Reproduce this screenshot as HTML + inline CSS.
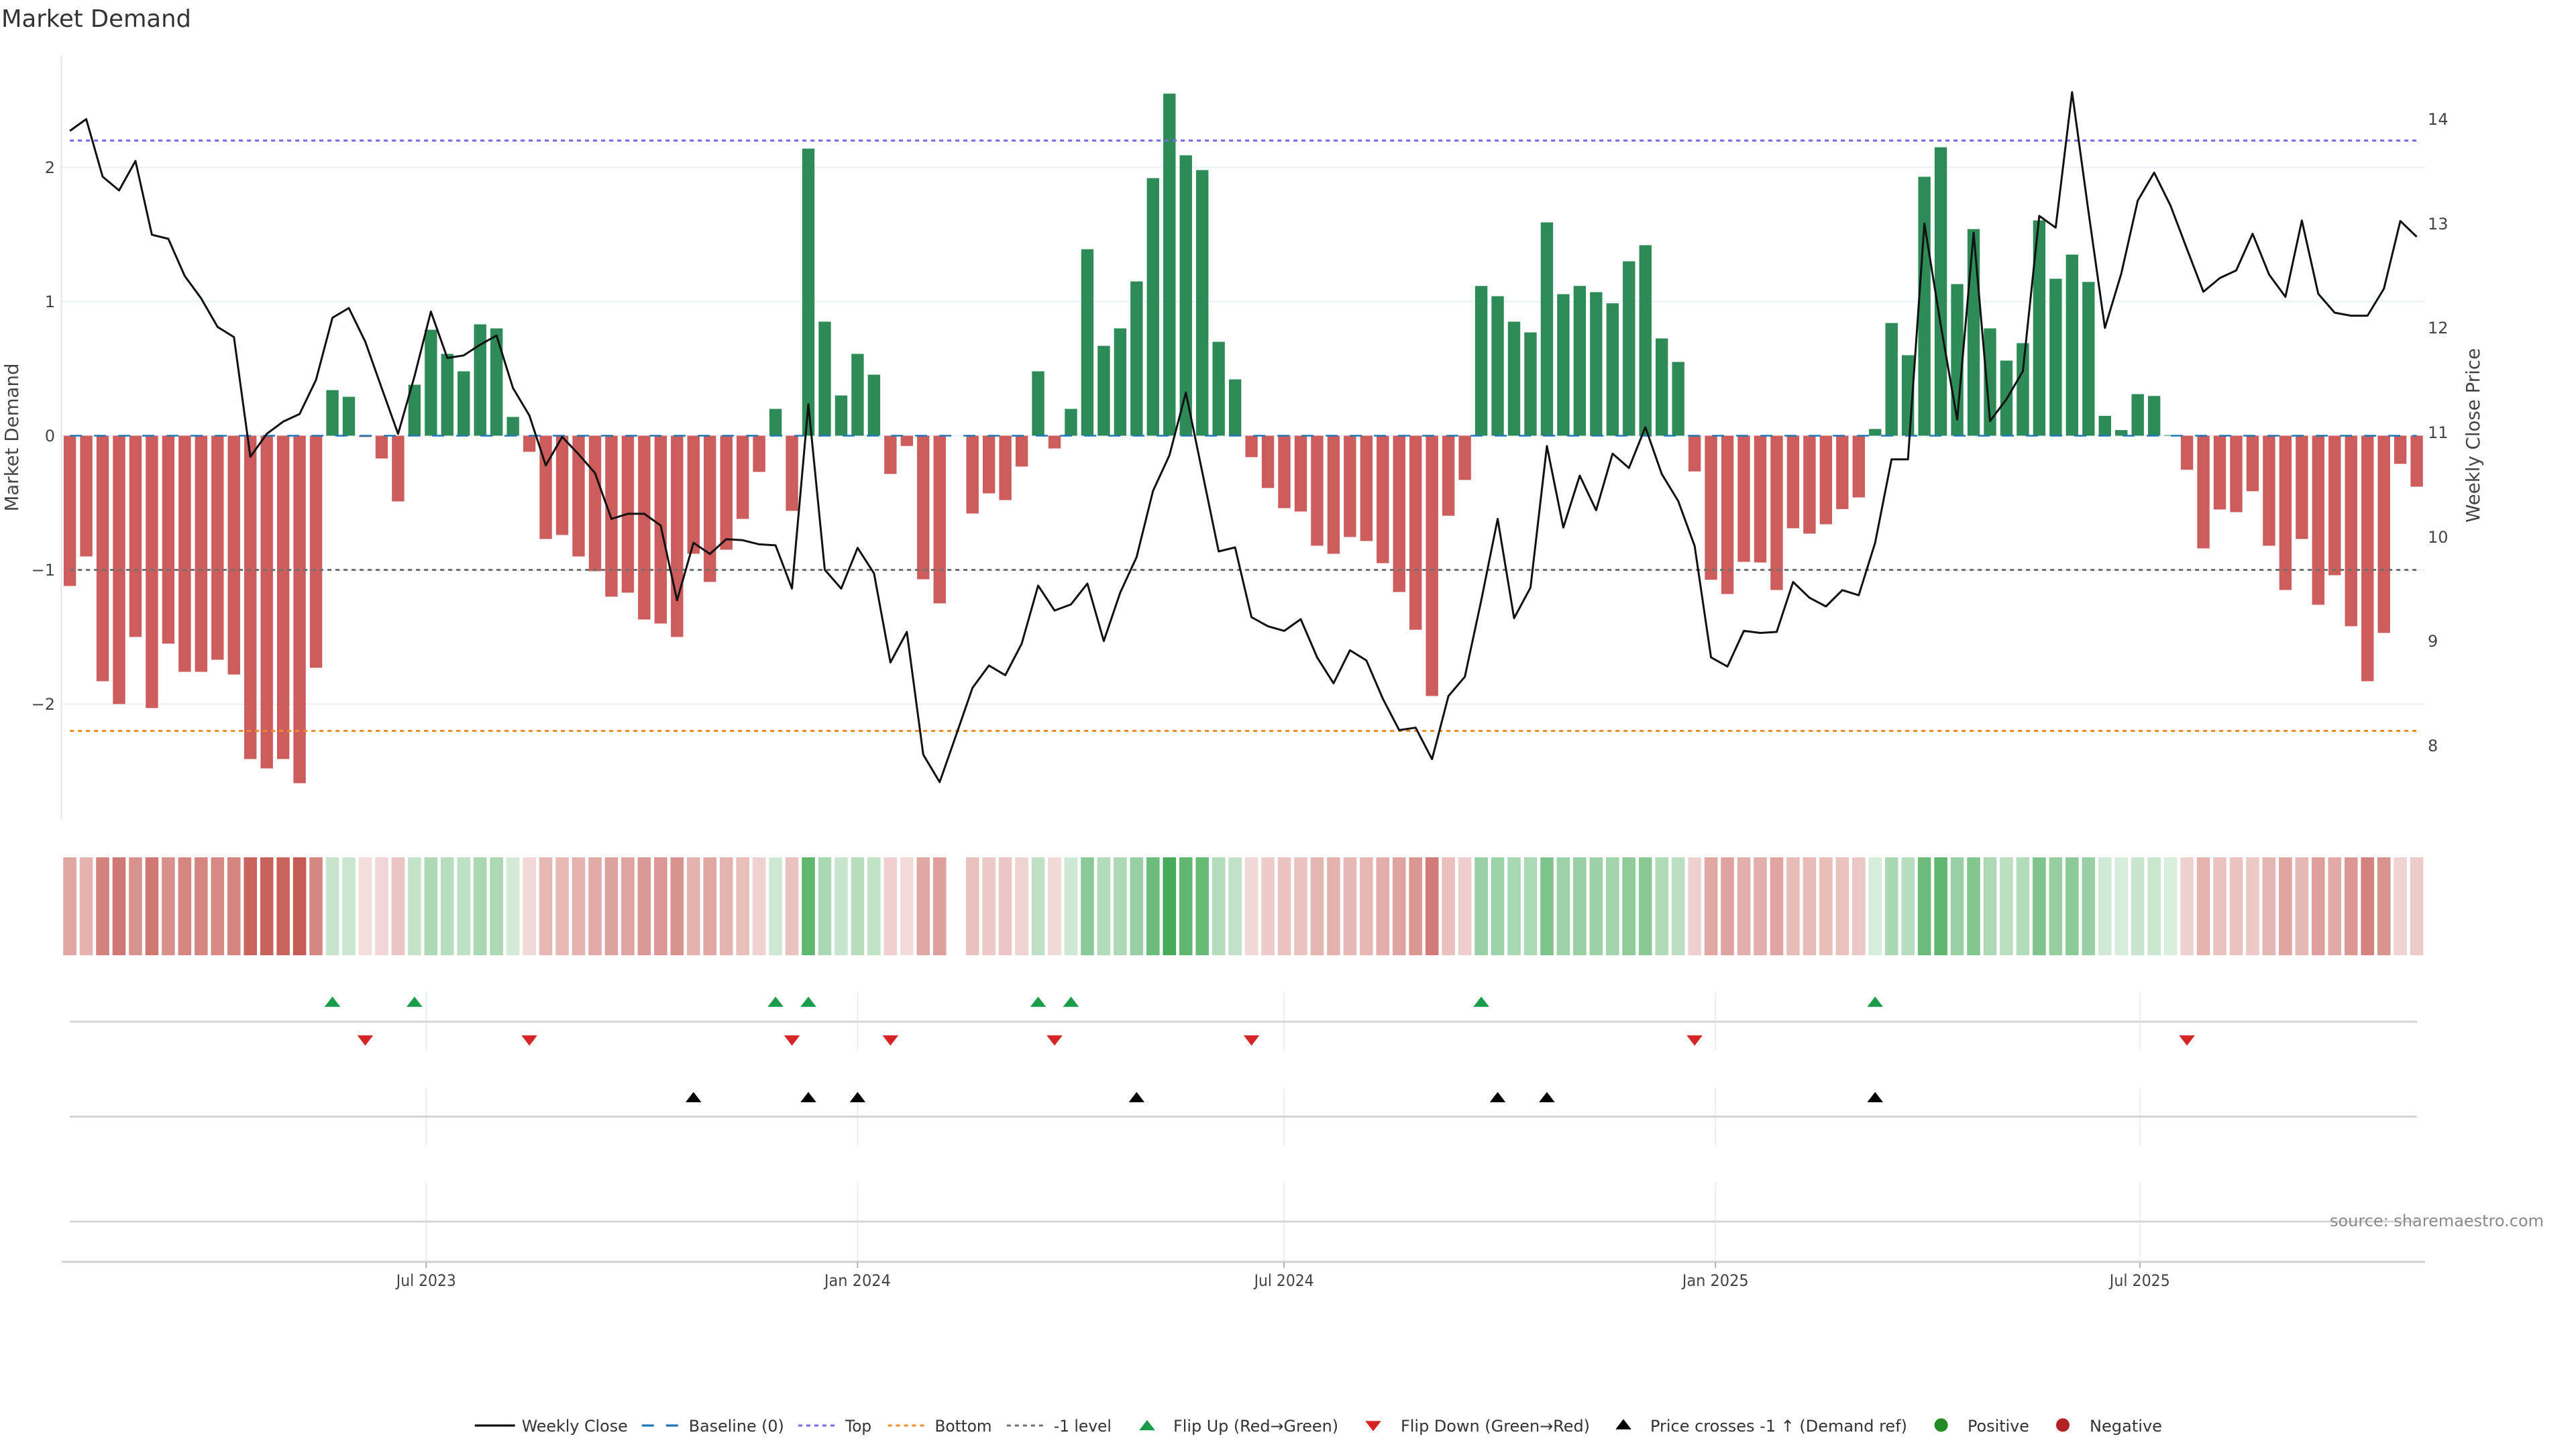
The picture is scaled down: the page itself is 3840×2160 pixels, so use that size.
<!DOCTYPE html>
<html>
<head>
<meta charset="utf-8">
<style>
html,body{margin:0;padding:0;background:#fff;}
svg{display:block;}
text{font-family:"DejaVu Sans","Liberation Sans",sans-serif;}
.sr{fill:#c65c55;}
.sg{fill:#45aa58;}
</style>
</head>
<body>
<svg width="3840" height="2160" viewBox="0 0 3840 2160" xmlns="http://www.w3.org/2000/svg">
<rect width="3840" height="2160" fill="#fff"/>
<defs>
<path id="tu" d="M-11.8,5.1H11.8L0,-10.2Z"/>
<path id="td" d="M-11.8,-5.1H11.8L0,10.2Z"/>
</defs>

<!-- Title -->
<text x="2" y="40" font-size="36" fill="#333" textLength="283" lengthAdjust="spacingAndGlyphs">Market Demand</text>

<!-- main plot gridlines -->
<g stroke="#ebf0f8" stroke-width="2">
<line x1="92" y1="249.5" x2="3615" y2="249.5"/>
<line x1="92" y1="449.5" x2="3615" y2="449.5"/>
<line x1="92" y1="649.5" x2="3615" y2="649.5"/>
<line x1="92" y1="849.5" x2="3615" y2="849.5"/>
<line x1="92" y1="1049.5" x2="3615" y2="1049.5"/>
</g>
<line x1="91.5" y1="83" x2="91.5" y2="1221" stroke="#e4e6ea" stroke-width="2"/>

<!-- bars -->
<g transform="translate(104.1 649.5) scale(24.465 -200)">
<path fill="#cd5c5c" d="M-.376 0h.752V-1.12h-.752z M.624 0h.752V-.9h-.752z M1.624 0h.752V-1.83h-.752z M2.624 0h.752V-2h-.752z M3.624 0h.752V-1.5h-.752z M4.624 0h.752V-2.03h-.752z M5.624 0h.752V-1.55h-.752z M6.624 0h.752V-1.76h-.752z M7.624 0h.752V-1.76h-.752z M8.624 0h.752V-1.67h-.752z M9.624 0h.752V-1.78h-.752z M10.624 0h.752V-2.41h-.752z M11.624 0h.752V-2.48h-.752z M12.624 0h.752V-2.41h-.752z M13.624 0h.752V-2.59h-.752z M14.624 0h.752V-1.73h-.752z M17.624 0h.752V-.01h-.752z M18.624 0h.752V-.17h-.752z M19.624 0h.752V-.49h-.752z M27.624 0h.752V-.12h-.752z M28.624 0h.752V-.77h-.752z M29.624 0h.752V-.74h-.752z M30.624 0h.752V-.9h-.752z M31.624 0h.752V-1.01h-.752z M32.624 0h.752V-1.2h-.752z M33.624 0h.752V-1.17h-.752z M34.624 0h.752V-1.37h-.752z M35.624 0h.752V-1.4h-.752z M36.624 0h.752V-1.5h-.752z M37.624 0h.752V-.88h-.752z M38.624 0h.752V-1.09h-.752z M39.624 0h.752V-.85h-.752z M40.624 0h.752V-.62h-.752z M41.624 0h.752V-.27h-.752z M43.624 0h.752V-.56h-.752z M49.624 0h.752V-.285h-.752z M50.624 0h.752V-.076h-.752z M51.624 0h.752V-1.07h-.752z M52.624 0h.752V-1.25h-.752z M54.624 0h.752V-.58h-.752z M55.624 0h.752V-.43h-.752z M56.624 0h.752V-.48h-.752z M57.624 0h.752V-.23h-.752z M59.624 0h.752V-.095h-.752z M71.624 0h.752V-.16h-.752z M72.624 0h.752V-.39h-.752z M73.624 0h.752V-.54h-.752z M74.624 0h.752V-.565h-.752z M75.624 0h.752V-.82h-.752z M76.624 0h.752V-.88h-.752z M77.624 0h.752V-.755h-.752z M78.624 0h.752V-.785h-.752z M79.624 0h.752V-.95h-.752z M80.624 0h.752V-1.165h-.752z M81.624 0h.752V-1.446h-.752z M82.624 0h.752V-1.94h-.752z M83.624 0h.752V-.596h-.752z M84.624 0h.752V-.33h-.752z M98.624 0h.752V-.266h-.752z M99.624 0h.752V-1.074h-.752z M100.624 0h.752V-1.18h-.752z M101.624 0h.752V-.94h-.752z M102.624 0h.752V-.945h-.752z M103.624 0h.752V-1.15h-.752z M104.624 0h.752V-.69h-.752z M105.624 0h.752V-.73h-.752z M106.624 0h.752V-.66h-.752z M107.624 0h.752V-.547h-.752z M108.624 0h.752V-.46h-.752z M128.624 0h.752V-.254h-.752z M129.624 0h.752V-.84h-.752z M130.624 0h.752V-.55h-.752z M131.624 0h.752V-.57h-.752z M132.624 0h.752V-.414h-.752z M133.624 0h.752V-.82h-.752z M134.624 0h.752V-1.15h-.752z M135.624 0h.752V-.77h-.752z M136.624 0h.752V-1.26h-.752z M137.624 0h.752V-1.04h-.752z M138.624 0h.752V-1.42h-.752z M139.624 0h.752V-1.83h-.752z M140.624 0h.752V-1.47h-.752z M141.624 0h.752V-.21h-.752z M142.624 0h.752V-.38h-.752z"/>
<path fill="#2e8b57" d="M15.624 0h.752V.34h-.752z M16.624 0h.752V.29h-.752z M20.624 0h.752V.38h-.752z M21.624 0h.752V.79h-.752z M22.624 0h.752V.61h-.752z M23.624 0h.752V.48h-.752z M24.624 0h.752V.83h-.752z M25.624 0h.752V.8h-.752z M26.624 0h.752V.14h-.752z M42.624 0h.752V.2h-.752z M44.624 0h.752V2.14h-.752z M45.624 0h.752V.85h-.752z M46.624 0h.752V.3h-.752z M47.624 0h.752V.61h-.752z M48.624 0h.752V.455h-.752z M58.624 0h.752V.48h-.752z M60.624 0h.752V.2h-.752z M61.624 0h.752V1.39h-.752z M62.624 0h.752V.67h-.752z M63.624 0h.752V.8h-.752z M64.624 0h.752V1.15h-.752z M65.624 0h.752V1.92h-.752z M66.624 0h.752V2.55h-.752z M67.624 0h.752V2.09h-.752z M68.624 0h.752V1.98h-.752z M69.624 0h.752V.7h-.752z M70.624 0h.752V.42h-.752z M85.624 0h.752V1.116h-.752z M86.624 0h.752V1.04h-.752z M87.624 0h.752V.85h-.752z M88.624 0h.752V.77h-.752z M89.624 0h.752V1.59h-.752z M90.624 0h.752V1.055h-.752z M91.624 0h.752V1.116h-.752z M92.624 0h.752V1.07h-.752z M93.624 0h.752V.987h-.752z M94.624 0h.752V1.3h-.752z M95.624 0h.752V1.42h-.752z M96.624 0h.752V.725h-.752z M97.624 0h.752V.55h-.752z M109.624 0h.752V.05h-.752z M110.624 0h.752V.84h-.752z M111.624 0h.752V.6h-.752z M112.624 0h.752V1.93h-.752z M113.624 0h.752V2.15h-.752z M114.624 0h.752V1.13h-.752z M115.624 0h.752V1.54h-.752z M116.624 0h.752V.8h-.752z M117.624 0h.752V.56h-.752z M118.624 0h.752V.69h-.752z M119.624 0h.752V1.605h-.752z M120.624 0h.752V1.17h-.752z M121.624 0h.752V1.35h-.752z M122.624 0h.752V1.146h-.752z M123.624 0h.752V.148h-.752z M124.624 0h.752V.042h-.752z M125.624 0h.752V.31h-.752z M126.624 0h.752V.296h-.752z M127.624 0h.752V.005h-.752z"/>
</g>

<!-- reference lines -->
<line x1="104.1" y1="649.5" x2="3602.6" y2="649.5" stroke="#1f77b4" stroke-width="2.5" stroke-dasharray="18,18"/>
<line x1="104.1" y1="209.5" x2="3602.6" y2="209.5" stroke="#7b68ee" stroke-width="3" stroke-dasharray="6,6"/>
<line x1="104.1" y1="1089.5" x2="3602.6" y2="1089.5" stroke="#f08a24" stroke-width="3" stroke-dasharray="6,6"/>
<line x1="104.1" y1="849.5" x2="3602.6" y2="849.5" stroke="#707070" stroke-width="3" stroke-dasharray="6,6"/>

<!-- price line -->
<g transform="translate(104.1 0) scale(24.465 1)">
<polyline fill="none" stroke="#111" stroke-width="3" stroke-linejoin="round" vector-effect="non-scaling-stroke" points="0,195.1 1,177.6 2,263.4 3,283.9 4,239.9 5,349.9 6,356 7,411.4 8,444.8 9,487.3 10,502.5 11,680.9 12,646.7 13,628.5 14,617.1 15,566.3 16,473.7 17,459.2 18,509.3 19,578.4 20,646.7 21,561 22,464.5 23,533.6 24,529.8 25,513.9 26,500.2 27,578.4 28,619.4 29,693.8 30,651.3 31,677.1 32,705.2 33,773.5 34,765.9 35,765.9 36,783.3 37,894.9 38,809.1 39,825.8 40,803.8 41,805.3 42,811.4 43,812.9 44,877.4 45,602.7 46,849.4 47,877.4 48,816.7 49,854.7 50,987.5 51,942 52,1124.9 53,1165.9 54,1096 55,1025.4 56,992.1 57,1006.5 58,959.4 59,872.9 60,910.1 61,901 62,869.9 63,955.6 64,883.5 65,830.4 66,731.7 67,678.6 68,585.2 69,703.6 70,822 71,816 72,920 73,933.6 74,940.4 75,923 76,979.9 77,1018.6 78,969.3 79,984.5 80,1041.4 81,1088.4 82,1084.7 83,1131.7 84,1037.6 85,1008.8 86,894.9 87,773.5 88,921.5 89,875.9 90,664.9 91,786.4 92,709 93,760.6 94,676.3 95,697.6 96,636.8 97,706.7 98,746.9 99,813.7 100,979.9 101,993.6 102,940.4 103,943.5 104,942 105,867.6 106,891.1 107,904 108,879.7 109,887.3 110,809.1 111,684.7 112,684.7 113,333.2 114,485 115,625.5 116,346.9 117,627.7 118,595.1 119,553.4 120,321.9 121,339.3 122,137.4 123,315.8 124,488.8 125,407.6 126,299.1 127,257.3 128,306.7 129,371.2 130,434.9 131,414.5 132,403.1 133,348.4 134,409.1 135,442.5 136,328.7 137,438 138,466.1 139,470.6 140,470.6 141,430.4 142,329.4 143,353"/>
</g>

<!-- left y ticks -->
<g font-size="24" fill="#444" text-anchor="end">
<text x="82" y="258">2</text>
<text x="82" y="458">1</text>
<text x="82" y="658">0</text>
<text x="82" y="858">−1</text>
<text x="82" y="1058">−2</text>
</g>
<!-- right y ticks -->
<g font-size="24" fill="#444">
<text x="3619" y="186">14</text>
<text x="3619" y="342">13</text>
<text x="3619" y="497">12</text>
<text x="3619" y="653">11</text>
<text x="3619" y="809">10</text>
<text x="3619" y="964">9</text>
<text x="3619" y="1120">8</text>
</g>
<text transform="translate(26.8 652) rotate(-90)" text-anchor="middle" font-size="28" fill="#444" textLength="221" lengthAdjust="spacingAndGlyphs">Market Demand</text>
<text transform="translate(3696 649) rotate(-90)" text-anchor="middle" font-size="28" fill="#444" textLength="260" lengthAdjust="spacingAndGlyphs">Weekly Close Price</text>

<!-- heat strip -->
<g transform="translate(104.1 1278) scale(24.465 1)">
<rect class="sr" x="-.4" width=".8" height="146" fill-opacity=".546"/>
<rect class="sr" x=".6" width=".8" height="146" fill-opacity=".478"/>
<rect class="sr" x="1.6" width=".8" height="146" fill-opacity=".765"/>
<rect class="sr" x="2.6" width=".8" height="146" fill-opacity=".818"/>
<rect class="sr" x="3.6" width=".8" height="146" fill-opacity=".663"/>
<rect class="sr" x="4.6" width=".8" height="146" fill-opacity=".827"/>
<rect class="sr" x="5.6" width=".8" height="146" fill-opacity=".679"/>
<rect class="sr" x="6.6" width=".8" height="146" fill-opacity=".744"/>
<rect class="sr" x="7.6" width=".8" height="146" fill-opacity=".744"/>
<rect class="sr" x="8.6" width=".8" height="146" fill-opacity=".716"/>
<rect class="sr" x="9.6" width=".8" height="146" fill-opacity=".75"/>
<rect class="sr" x="10.6" width=".8" height="146" fill-opacity=".944"/>
<rect class="sr" x="11.6" width=".8" height="146" fill-opacity=".966"/>
<rect class="sr" x="12.6" width=".8" height="146" fill-opacity=".944"/>
<rect class="sr" x="13.6" width=".8" height="146" fill-opacity="1"/>
<rect class="sr" x="14.6" width=".8" height="146" fill-opacity=".734"/>
<rect class="sg" x="15.6" width=".8" height="146" fill-opacity=".305"/>
<rect class="sg" x="16.6" width=".8" height="146" fill-opacity=".29"/>
<rect class="sr" x="17.6" width=".8" height="146" fill-opacity=".203"/>
<rect class="sr" x="18.6" width=".8" height="146" fill-opacity=".253"/>
<rect class="sr" x="19.6" width=".8" height="146" fill-opacity=".351"/>
<rect class="sg" x="20.6" width=".8" height="146" fill-opacity=".317"/>
<rect class="sg" x="21.6" width=".8" height="146" fill-opacity=".444"/>
<rect class="sg" x="22.6" width=".8" height="146" fill-opacity=".388"/>
<rect class="sg" x="23.6" width=".8" height="146" fill-opacity=".348"/>
<rect class="sg" x="24.6" width=".8" height="146" fill-opacity=".456"/>
<rect class="sg" x="25.6" width=".8" height="146" fill-opacity=".447"/>
<rect class="sg" x="26.6" width=".8" height="146" fill-opacity=".243"/>
<rect class="sr" x="27.6" width=".8" height="146" fill-opacity=".237"/>
<rect class="sr" x="28.6" width=".8" height="146" fill-opacity=".438"/>
<rect class="sr" x="29.6" width=".8" height="146" fill-opacity=".429"/>
<rect class="sr" x="30.6" width=".8" height="146" fill-opacity=".478"/>
<rect class="sr" x="31.6" width=".8" height="146" fill-opacity=".512"/>
<rect class="sr" x="32.6" width=".8" height="146" fill-opacity=".571"/>
<rect class="sr" x="33.6" width=".8" height="146" fill-opacity=".561"/>
<rect class="sr" x="34.6" width=".8" height="146" fill-opacity=".623"/>
<rect class="sr" x="35.6" width=".8" height="146" fill-opacity=".632"/>
<rect class="sr" x="36.6" width=".8" height="146" fill-opacity=".663"/>
<rect class="sr" x="37.6" width=".8" height="146" fill-opacity=".472"/>
<rect class="sr" x="38.6" width=".8" height="146" fill-opacity=".537"/>
<rect class="sr" x="39.6" width=".8" height="146" fill-opacity=".463"/>
<rect class="sr" x="40.6" width=".8" height="146" fill-opacity=".392"/>
<rect class="sr" x="41.6" width=".8" height="146" fill-opacity=".283"/>
<rect class="sg" x="42.6" width=".8" height="146" fill-opacity=".262"/>
<rect class="sr" x="43.6" width=".8" height="146" fill-opacity=".373"/>
<rect class="sg" x="44.6" width=".8" height="146" fill-opacity=".861"/>
<rect class="sg" x="45.6" width=".8" height="146" fill-opacity=".463"/>
<rect class="sg" x="46.6" width=".8" height="146" fill-opacity=".293"/>
<rect class="sg" x="47.6" width=".8" height="146" fill-opacity=".388"/>
<rect class="sg" x="48.6" width=".8" height="146" fill-opacity=".341"/>
<rect class="sr" x="49.6" width=".8" height="146" fill-opacity=".288"/>
<rect class="sr" x="50.6" width=".8" height="146" fill-opacity=".223"/>
<rect class="sr" x="51.6" width=".8" height="146" fill-opacity=".531"/>
<rect class="sr" x="52.6" width=".8" height="146" fill-opacity=".586"/>
<rect class="sr" x="54.6" width=".8" height="146" fill-opacity=".379"/>
<rect class="sr" x="55.6" width=".8" height="146" fill-opacity=".333"/>
<rect class="sr" x="56.6" width=".8" height="146" fill-opacity=".348"/>
<rect class="sr" x="57.6" width=".8" height="146" fill-opacity=".271"/>
<rect class="sg" x="58.6" width=".8" height="146" fill-opacity=".348"/>
<rect class="sr" x="59.6" width=".8" height="146" fill-opacity=".229"/>
<rect class="sg" x="60.6" width=".8" height="146" fill-opacity=".262"/>
<rect class="sg" x="61.6" width=".8" height="146" fill-opacity=".629"/>
<rect class="sg" x="62.6" width=".8" height="146" fill-opacity=".407"/>
<rect class="sg" x="63.6" width=".8" height="146" fill-opacity=".447"/>
<rect class="sg" x="64.6" width=".8" height="146" fill-opacity=".555"/>
<rect class="sg" x="65.6" width=".8" height="146" fill-opacity=".793"/>
<rect class="sg" x="66.6" width=".8" height="146" fill-opacity=".988"/>
<rect class="sg" x="67.6" width=".8" height="146" fill-opacity=".846"/>
<rect class="sg" x="68.6" width=".8" height="146" fill-opacity=".812"/>
<rect class="sg" x="69.6" width=".8" height="146" fill-opacity=".416"/>
<rect class="sg" x="70.6" width=".8" height="146" fill-opacity=".33"/>
<rect class="sr" x="71.6" width=".8" height="146" fill-opacity=".249"/>
<rect class="sr" x="72.6" width=".8" height="146" fill-opacity=".32"/>
<rect class="sr" x="73.6" width=".8" height="146" fill-opacity=".367"/>
<rect class="sr" x="74.6" width=".8" height="146" fill-opacity=".375"/>
<rect class="sr" x="75.6" width=".8" height="146" fill-opacity=".453"/>
<rect class="sr" x="76.6" width=".8" height="146" fill-opacity=".472"/>
<rect class="sr" x="77.6" width=".8" height="146" fill-opacity=".433"/>
<rect class="sr" x="78.6" width=".8" height="146" fill-opacity=".442"/>
<rect class="sr" x="79.6" width=".8" height="146" fill-opacity=".493"/>
<rect class="sr" x="80.6" width=".8" height="146" fill-opacity=".56"/>
<rect class="sr" x="81.6" width=".8" height="146" fill-opacity=".647"/>
<rect class="sr" x="82.6" width=".8" height="146" fill-opacity=".799"/>
<rect class="sr" x="83.6" width=".8" height="146" fill-opacity=".384"/>
<rect class="sr" x="84.6" width=".8" height="146" fill-opacity=".302"/>
<rect class="sg" x="85.6" width=".8" height="146" fill-opacity=".545"/>
<rect class="sg" x="86.6" width=".8" height="146" fill-opacity=".521"/>
<rect class="sg" x="87.6" width=".8" height="146" fill-opacity=".463"/>
<rect class="sg" x="88.6" width=".8" height="146" fill-opacity=".438"/>
<rect class="sg" x="89.6" width=".8" height="146" fill-opacity=".691"/>
<rect class="sg" x="90.6" width=".8" height="146" fill-opacity=".526"/>
<rect class="sg" x="91.6" width=".8" height="146" fill-opacity=".545"/>
<rect class="sg" x="92.6" width=".8" height="146" fill-opacity=".531"/>
<rect class="sg" x="93.6" width=".8" height="146" fill-opacity=".505"/>
<rect class="sg" x="94.6" width=".8" height="146" fill-opacity=".602"/>
<rect class="sg" x="95.6" width=".8" height="146" fill-opacity=".639"/>
<rect class="sg" x="96.6" width=".8" height="146" fill-opacity=".424"/>
<rect class="sg" x="97.6" width=".8" height="146" fill-opacity=".37"/>
<rect class="sr" x="98.6" width=".8" height="146" fill-opacity=".282"/>
<rect class="sr" x="99.6" width=".8" height="146" fill-opacity=".532"/>
<rect class="sr" x="100.6" width=".8" height="146" fill-opacity=".565"/>
<rect class="sr" x="101.6" width=".8" height="146" fill-opacity=".49"/>
<rect class="sr" x="102.6" width=".8" height="146" fill-opacity=".492"/>
<rect class="sr" x="103.6" width=".8" height="146" fill-opacity=".555"/>
<rect class="sr" x="104.6" width=".8" height="146" fill-opacity=".413"/>
<rect class="sr" x="105.6" width=".8" height="146" fill-opacity=".425"/>
<rect class="sr" x="106.6" width=".8" height="146" fill-opacity=".404"/>
<rect class="sr" x="107.6" width=".8" height="146" fill-opacity=".369"/>
<rect class="sr" x="108.6" width=".8" height="146" fill-opacity=".342"/>
<rect class="sg" x="109.6" width=".8" height="146" fill-opacity=".215"/>
<rect class="sg" x="110.6" width=".8" height="146" fill-opacity=".459"/>
<rect class="sg" x="111.6" width=".8" height="146" fill-opacity=".385"/>
<rect class="sg" x="112.6" width=".8" height="146" fill-opacity=".796"/>
<rect class="sg" x="113.6" width=".8" height="146" fill-opacity=".864"/>
<rect class="sg" x="114.6" width=".8" height="146" fill-opacity=".549"/>
<rect class="sg" x="115.6" width=".8" height="146" fill-opacity=".676"/>
<rect class="sg" x="116.6" width=".8" height="146" fill-opacity=".447"/>
<rect class="sg" x="117.6" width=".8" height="146" fill-opacity=".373"/>
<rect class="sg" x="118.6" width=".8" height="146" fill-opacity=".413"/>
<rect class="sg" x="119.6" width=".8" height="146" fill-opacity=".696"/>
<rect class="sg" x="120.6" width=".8" height="146" fill-opacity=".561"/>
<rect class="sg" x="121.6" width=".8" height="146" fill-opacity=".617"/>
<rect class="sg" x="122.6" width=".8" height="146" fill-opacity=".554"/>
<rect class="sg" x="123.6" width=".8" height="146" fill-opacity=".246"/>
<rect class="sg" x="124.6" width=".8" height="146" fill-opacity=".213"/>
<rect class="sg" x="125.6" width=".8" height="146" fill-opacity=".296"/>
<rect class="sg" x="126.6" width=".8" height="146" fill-opacity=".291"/>
<rect class="sg" x="127.6" width=".8" height="146" fill-opacity=".2"/>
<rect class="sr" x="128.6" width=".8" height="146" fill-opacity=".278"/>
<rect class="sr" x="129.6" width=".8" height="146" fill-opacity=".459"/>
<rect class="sr" x="130.6" width=".8" height="146" fill-opacity=".37"/>
<rect class="sr" x="131.6" width=".8" height="146" fill-opacity=".376"/>
<rect class="sr" x="132.6" width=".8" height="146" fill-opacity=".328"/>
<rect class="sr" x="133.6" width=".8" height="146" fill-opacity=".453"/>
<rect class="sr" x="134.6" width=".8" height="146" fill-opacity=".555"/>
<rect class="sr" x="135.6" width=".8" height="146" fill-opacity=".438"/>
<rect class="sr" x="136.6" width=".8" height="146" fill-opacity=".589"/>
<rect class="sr" x="137.6" width=".8" height="146" fill-opacity=".521"/>
<rect class="sr" x="138.6" width=".8" height="146" fill-opacity=".639"/>
<rect class="sr" x="139.6" width=".8" height="146" fill-opacity=".765"/>
<rect class="sr" x="140.6" width=".8" height="146" fill-opacity=".654"/>
<rect class="sr" x="141.6" width=".8" height="146" fill-opacity=".265"/>
<rect class="sr" x="142.6" width=".8" height="146" fill-opacity=".317"/>
</g>

<!-- lower rows: vertical gridlines -->
<g stroke="#ebf0f8" stroke-width="2">
<line x1="635.3" y1="1479" x2="635.3" y2="1567"/><line x1="635.3" y1="1622" x2="635.3" y2="1708"/><line x1="635.3" y1="1762" x2="635.3" y2="1880"/>
<line x1="1278.4" y1="1479" x2="1278.4" y2="1567"/><line x1="1278.4" y1="1622" x2="1278.4" y2="1708"/><line x1="1278.4" y1="1762" x2="1278.4" y2="1880"/>
<line x1="1914.1" y1="1479" x2="1914.1" y2="1567"/><line x1="1914.1" y1="1622" x2="1914.1" y2="1708"/><line x1="1914.1" y1="1762" x2="1914.1" y2="1880"/>
<line x1="2557.2" y1="1479" x2="2557.2" y2="1567"/><line x1="2557.2" y1="1622" x2="2557.2" y2="1708"/><line x1="2557.2" y1="1762" x2="2557.2" y2="1880"/>
<line x1="3189.8" y1="1479" x2="3189.8" y2="1567"/><line x1="3189.8" y1="1622" x2="3189.8" y2="1708"/><line x1="3189.8" y1="1762" x2="3189.8" y2="1880"/>
</g>
<!-- lower rows: center lines -->
<g stroke="#d3d5d9" stroke-width="3">
<line x1="104" y1="1523" x2="3603" y2="1523"/>
<line x1="104" y1="1664.5" x2="3603" y2="1664.5"/>
<line x1="104" y1="1821" x2="3603" y2="1821"/>
</g>

<!-- flip up markers -->
<g fill="#1a9c4a">
<use href="#tu" x="495.54" y="1495.8"/>
<use href="#tu" x="617.87" y="1495.8"/>
<use href="#tu" x="1156.1" y="1495.8"/>
<use href="#tu" x="1205.03" y="1495.8"/>
<use href="#tu" x="1547.54" y="1495.8"/>
<use href="#tu" x="1596.47" y="1495.8"/>
<use href="#tu" x="2208.09" y="1495.8"/>
<use href="#tu" x="2795.25" y="1495.8"/>
</g>
<!-- flip down markers -->
<g fill="#d62424">
<use href="#td" x="544.47" y="1548.5"/>
<use href="#td" x="789.12" y="1548.5"/>
<use href="#td" x="1180.56" y="1548.5"/>
<use href="#td" x="1327.35" y="1548.5"/>
<use href="#td" x="1572" y="1548.5"/>
<use href="#td" x="1865.58" y="1548.5"/>
<use href="#td" x="2526.14" y="1548.5"/>
<use href="#td" x="3260.09" y="1548.5"/>
</g>
<!-- price crosses markers -->
<g fill="#000">
<use href="#tu" x="1033.77" y="1638"/>
<use href="#tu" x="1205.03" y="1638"/>
<use href="#tu" x="1278.42" y="1638"/>
<use href="#tu" x="1694.33" y="1638"/>
<use href="#tu" x="2232.56" y="1638"/>
<use href="#tu" x="2305.95" y="1638"/>
<use href="#tu" x="2795.25" y="1638"/>
</g>

<!-- x axis -->
<line x1="92" y1="1881" x2="3615" y2="1881" stroke="#d0d0d0" stroke-width="3"/>
<g stroke="#b0b0b0" stroke-width="2">
<line x1="635.3" y1="1882" x2="635.3" y2="1890"/>
<line x1="1278.4" y1="1882" x2="1278.4" y2="1890"/>
<line x1="1914.1" y1="1882" x2="1914.1" y2="1890"/>
<line x1="2557.2" y1="1882" x2="2557.2" y2="1890"/>
<line x1="3189.8" y1="1882" x2="3189.8" y2="1890"/>
</g>
<g font-size="24" fill="#444" text-anchor="middle">
<text x="635.3" y="1917" textLength="89" lengthAdjust="spacingAndGlyphs">Jul 2023</text>
<text x="1278.4" y="1917" textLength="99" lengthAdjust="spacingAndGlyphs">Jan 2024</text>
<text x="1914.1" y="1917" textLength="89" lengthAdjust="spacingAndGlyphs">Jul 2024</text>
<text x="2557.2" y="1917" textLength="99" lengthAdjust="spacingAndGlyphs">Jan 2025</text>
<text x="3189.8" y="1917" textLength="90" lengthAdjust="spacingAndGlyphs">Jul 2025</text>
</g>

<!-- source -->
<text x="3792" y="1828" text-anchor="end" font-size="24" fill="#8a8a8a" textLength="319" lengthAdjust="spacingAndGlyphs">source: sharemaestro.com</text>

<!-- legend -->
<line x1="707.7" y1="2125" x2="767.7" y2="2125" stroke="#111" stroke-width="3.3"/>
<line x1="956.8" y1="2125" x2="1016.8" y2="2125" stroke="#1f77b4" stroke-width="3.3" stroke-dasharray="18,18"/>
<line x1="1190" y1="2125" x2="1250" y2="2125" stroke="#7b68ee" stroke-width="3" stroke-dasharray="6,6"/>
<line x1="1323.5" y1="2125" x2="1383.5" y2="2125" stroke="#f08a24" stroke-width="3" stroke-dasharray="6,6"/>
<line x1="1500.8" y1="2125" x2="1560.8" y2="2125" stroke="#707070" stroke-width="3" stroke-dasharray="6,6"/>
<use href="#tu" x="1710" y="2127" fill="#1a9c4a"/>
<use href="#td" x="2047" y="2123.3" fill="#d62424"/>
<use href="#tu" x="2420" y="2125.6" fill="#000"/>
<circle cx="2893.6" cy="2124.3" r="10" fill="#228b22"/>
<circle cx="3075" cy="2124.3" r="10" fill="#b22222"/>
<g font-size="24" fill="#333">
<text x="777.7" y="2134" textLength="158" lengthAdjust="spacingAndGlyphs">Weekly Close</text>
<text x="1026.8" y="2134" textLength="142" lengthAdjust="spacingAndGlyphs">Baseline (0)</text>
<text x="1260" y="2134" textLength="39" lengthAdjust="spacingAndGlyphs">Top</text>
<text x="1393.5" y="2134" textLength="85" lengthAdjust="spacingAndGlyphs">Bottom</text>
<text x="1570.8" y="2134" textLength="86" lengthAdjust="spacingAndGlyphs">-1 level</text>
<text x="1749" y="2134" textLength="246" lengthAdjust="spacingAndGlyphs">Flip Up (Red→Green)</text>
<text x="2088" y="2134" textLength="282" lengthAdjust="spacingAndGlyphs">Flip Down (Green→Red)</text>
<text x="2460" y="2134" textLength="383" lengthAdjust="spacingAndGlyphs">Price crosses -1 ↑ (Demand ref)</text>
<text x="2933" y="2134" textLength="92" lengthAdjust="spacingAndGlyphs">Positive</text>
<text x="3115" y="2134" textLength="108" lengthAdjust="spacingAndGlyphs">Negative</text>
</g>
</svg>
</body>
</html>
